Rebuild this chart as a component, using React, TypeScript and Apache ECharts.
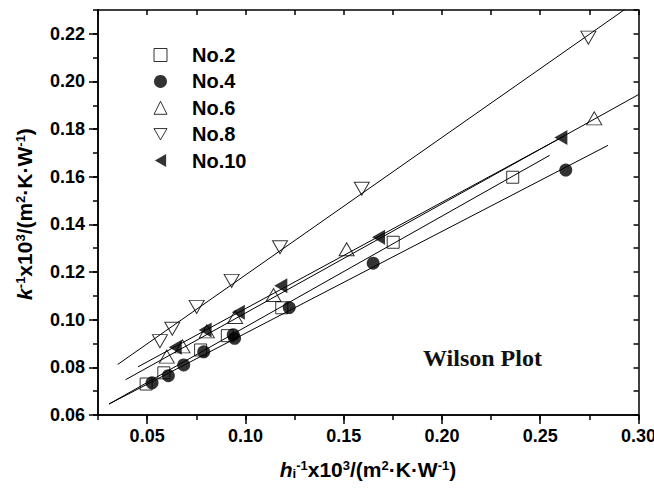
import React, { useEffect, useRef } from "react";
import * as echarts from "echarts";

// ---- data ----
const seriesNames = ["No.2", "No.4", "No.6", "No.8", "No.10"];

const no2X = [0.0495, 0.0585, 0.0772, 0.0908, 0.1185, 0.1752, 0.236];
const no2Y = [0.073, 0.0777, 0.0873, 0.0933, 0.105, 0.1325, 0.1598];

const no4X = [0.0525, 0.0608, 0.0686, 0.0788, 0.0938, 0.0945, 0.1223, 0.165, 0.263];
const no4Y = [0.0735, 0.0765, 0.081, 0.0865, 0.0937, 0.0922, 0.1051, 0.1237, 0.1628];

const no6X = [0.06, 0.068, 0.0804, 0.0948, 0.1143, 0.1515, 0.2775];
const no6Y = [0.0845, 0.0888, 0.0951, 0.1011, 0.1104, 0.1296, 0.1845];

const no8X = [0.0565, 0.0628, 0.0752, 0.093, 0.1176, 0.1592, 0.2745];
const no8Y = [0.091, 0.0962, 0.1054, 0.1163, 0.1304, 0.155, 0.2184];

const no10X = [0.0643, 0.0795, 0.0964, 0.118, 0.1677, 0.2605];
const no10Y = [0.0884, 0.0957, 0.1031, 0.1143, 0.1346, 0.1765];

// fitted straight lines (start / end points)
const fit2 = [[0.0306, 0.0646], [0.2548, 0.169]];
const fit4 = [[0.0306, 0.0646], [0.2845, 0.1732]];
const fit6 = [[0.039, 0.0748], [0.3, 0.1945]];
const fit8 = [[0.035, 0.0812], [0.2935, 0.2305]];
const fit10 = [[0.0453, 0.0802], [0.262, 0.177]];

const xMajorTicks = [0.05, 0.1, 0.15, 0.2, 0.25, 0.3];
const yMajorTicks = [0.06, 0.08, 0.1, 0.12, 0.14, 0.16, 0.18, 0.2, 0.22];

const X_MIN = 0.025;
const X_MAX = 0.3;
const Y_MIN = 0.06;
const Y_MAX = 0.23;

const xTitle = "{it|h}{sub|i}{sup|-1}{b|x10}{sup|3}{b|/(m}{sup|2}{b|·K·W}{sup|-1}{b|)}";
const yTitle = "{it|k}{sup|-1}{b|x10}{sup|3}{b|/(m}{sup|2}{b|·K·W}{sup|-1}{b|)}";
const noteText = "Wilson Plot";

const DOWN_TRI = "path://M0,0L10,0L5,8.66Z";
const LEFT_TRI = "path://M8.66,0L8.66,10L0,5Z";

const SANS = '"Liberation Sans", Arial, Helvetica, sans-serif';
const SERIF = '"Liberation Serif", "Times New Roman", serif';

const pts = (xs: number[], ys: number[]) => xs.map((x, i) => [x, ys[i]]);

const hollow = { color: "rgba(255,255,255,0)", borderColor: "#000", borderWidth: 1 };
const filled = { color: "#000", borderColor: "#000", borderWidth: 0 };

const axisLineStyle = { color: "#000", width: 1.5 };

const richName = {
  b: { fontFamily: SANS, fontWeight: "bold", fontSize: 21, fill: "#000", color: "#000" },
  it: { fontFamily: SANS, fontWeight: "bold", fontStyle: "italic", fontSize: 21, fill: "#000", color: "#000" },
  sup: { fontFamily: SANS, fontWeight: "bold", fontSize: 13, fill: "#000", color: "#000", verticalAlign: "top" },
  sub: { fontFamily: SANS, fontWeight: "bold", fontSize: 13, fill: "#000", color: "#000", verticalAlign: "bottom" },
};

const isMult = (v: number, step: number) => Math.abs(v / step - Math.round(v / step)) < 1e-6;

export default function App() {
  const ref = useRef<HTMLDivElement>(null);

  useEffect(() => {
    if (!ref.current) return;
    const chart = echarts.init(ref.current, undefined, { renderer: "svg" });

    const scatterDefs = [
      { name: seriesNames[0], data: pts(no2X, no2Y), symbol: "rect", size: 12, style: hollow },
      { name: seriesNames[1], data: pts(no4X, no4Y), symbol: "circle", size: 13, style: filled },
      { name: seriesNames[2], data: pts(no6X, no6Y), symbol: "triangle", size: [15, 13], style: hollow },
      { name: seriesNames[3], data: pts(no8X, no8Y), symbol: DOWN_TRI, size: [15, 13], style: hollow },
      { name: seriesNames[4], data: pts(no10X, no10Y), symbol: LEFT_TRI, size: [13, 15], style: filled },
    ];
    const fits = [fit2, fit4, fit6, fit8, fit10];

    const series: any[] = [];
    fits.forEach((f, i) => {
      series.push({
        type: "line",
        name: "fit " + seriesNames[i],
        data: f,
        xAxisIndex: 0,
        yAxisIndex: 0,
        showSymbol: false,
        symbol: "none",
        lineStyle: { color: "#000", width: 1 },
        silent: true,
        clip: true,
        z: 2,
        emphasis: { disabled: true },
      });
    });
    scatterDefs.forEach((s) => {
      series.push({
        type: "scatter",
        name: s.name,
        data: s.data,
        xAxisIndex: 0,
        yAxisIndex: 0,
        symbol: s.symbol,
        symbolSize: s.size,
        itemStyle: s.style,
        z: 3,
        emphasis: { disabled: true },
      });
    });

    const option: any = {
      animation: false,
      backgroundColor: "#fff",
      grid: { left: 98, right: 15.5, top: 10, bottom: 76, containLabel: false, outerBoundsMode: "none" },
      legend: {
        orient: "vertical",
        left: 153.5,
        top: 45,
        padding: 0,
        itemWidth: 13,
        itemHeight: 13,
        itemGap: 6.4,
        selectedMode: false,
        textStyle: {
          fontFamily: SANS,
          fontWeight: "bold",
          fontSize: 20,
          color: "#000",
          padding: [0, 0, 0, 20],
        },
        data: scatterDefs.map((s) => ({
          name: s.name,
          icon: s.symbol,
          itemStyle: s.style,
        })),
      },
      xAxis: [
        {
          type: "value",
          position: "bottom",
          min: X_MIN,
          max: X_MAX,
          interval: 0.025,
          axisLine: { show: true, onZero: false, lineStyle: axisLineStyle },
          axisTick: { show: true, inside: false, length: 5, lineStyle: axisLineStyle },
          axisLabel: { show: false },
          splitLine: { show: false },
        },
        {
          type: "value",
          position: "bottom",
          min: X_MIN,
          max: X_MAX,
          interval: 0.025,
          axisLine: { show: true, onZero: false, lineStyle: axisLineStyle },
          axisTick: { show: true, inside: false, length: 9, lineStyle: axisLineStyle, customValues: xMajorTicks },
          axisLabel: {
            show: true,
            margin: 12,
            customValues: xMajorTicks,
            color: "#000",
            fontFamily: SANS,
            fontWeight: "bold",
            fontSize: 18,
            showMinLabel: true,
            showMaxLabel: true,
            formatter: (v: number) => (isMult(v, 0.05) && v > 0.04 ? v.toFixed(2) : ""),
          },
          splitLine: { show: false },
        },
        {
          type: "value",
          position: "top",
          min: X_MIN,
          max: X_MAX,
          interval: 0.025,
          axisLine: { show: true, onZero: false, lineStyle: axisLineStyle },
          axisTick: { show: true, inside: true, length: 5, lineStyle: axisLineStyle },
          axisLabel: { show: false },
          splitLine: { show: false },
        },
      ],
      yAxis: [
        {
          type: "value",
          position: "left",
          min: Y_MIN,
          max: Y_MAX,
          interval: 0.01,
          axisLine: { show: true, onZero: false, lineStyle: axisLineStyle },
          axisTick: { show: true, inside: false, length: 5, lineStyle: axisLineStyle },
          axisLabel: { show: false },
          splitLine: { show: false },
        },
        {
          type: "value",
          position: "left",
          min: Y_MIN,
          max: Y_MAX,
          interval: 0.01,
          axisLine: { show: true, onZero: false, lineStyle: axisLineStyle },
          axisTick: { show: true, inside: false, length: 9, lineStyle: axisLineStyle, customValues: yMajorTicks },
          axisLabel: {
            show: true,
            margin: 13,
            customValues: yMajorTicks,
            color: "#000",
            fontFamily: SANS,
            fontWeight: "bold",
            fontSize: 18,
            formatter: (v: number) => (isMult(v, 0.02) && v < 0.225 ? v.toFixed(2) : ""),
          },
          splitLine: { show: false },
        },
        {
          type: "value",
          position: "right",
          min: Y_MIN,
          max: Y_MAX,
          interval: 0.01,
          axisLine: { show: true, onZero: false, lineStyle: axisLineStyle },
          axisTick: { show: true, inside: true, length: 5, lineStyle: axisLineStyle },
          axisLabel: { show: false },
          splitLine: { show: false },
        },
      ],
      graphic: [
        {
          type: "text",
          x: 423,
          y: 358,
          silent: true,
          style: {
            text: noteText,
            fontFamily: SERIF,
            fontWeight: "bold",
            fontSize: 24,
            fill: "#111",
            align: "left",
            verticalAlign: "middle",
          },
        },
        {
          type: "text",
          x: 368,
          y: 469,
          silent: true,
          style: {
            text: xTitle,
            rich: richName,
            fill: "#000",
            align: "center",
            verticalAlign: "middle",
          },
        },
        {
          type: "text",
          x: 24,
          y: 214,
          rotation: Math.PI / 2,
          silent: true,
          style: {
            text: yTitle,
            rich: richName,
            fill: "#000",
            align: "center",
            verticalAlign: "middle",
          },
        },
      ],
      series,
    };

    chart.setOption(option);
    return () => chart.dispose();
  }, []);

  return (
    <div
      ref={ref}
      style={{ position: "fixed", left: 0, top: 0, width: 654, height: 491, background: "#fff" }}
    />
  );
}
